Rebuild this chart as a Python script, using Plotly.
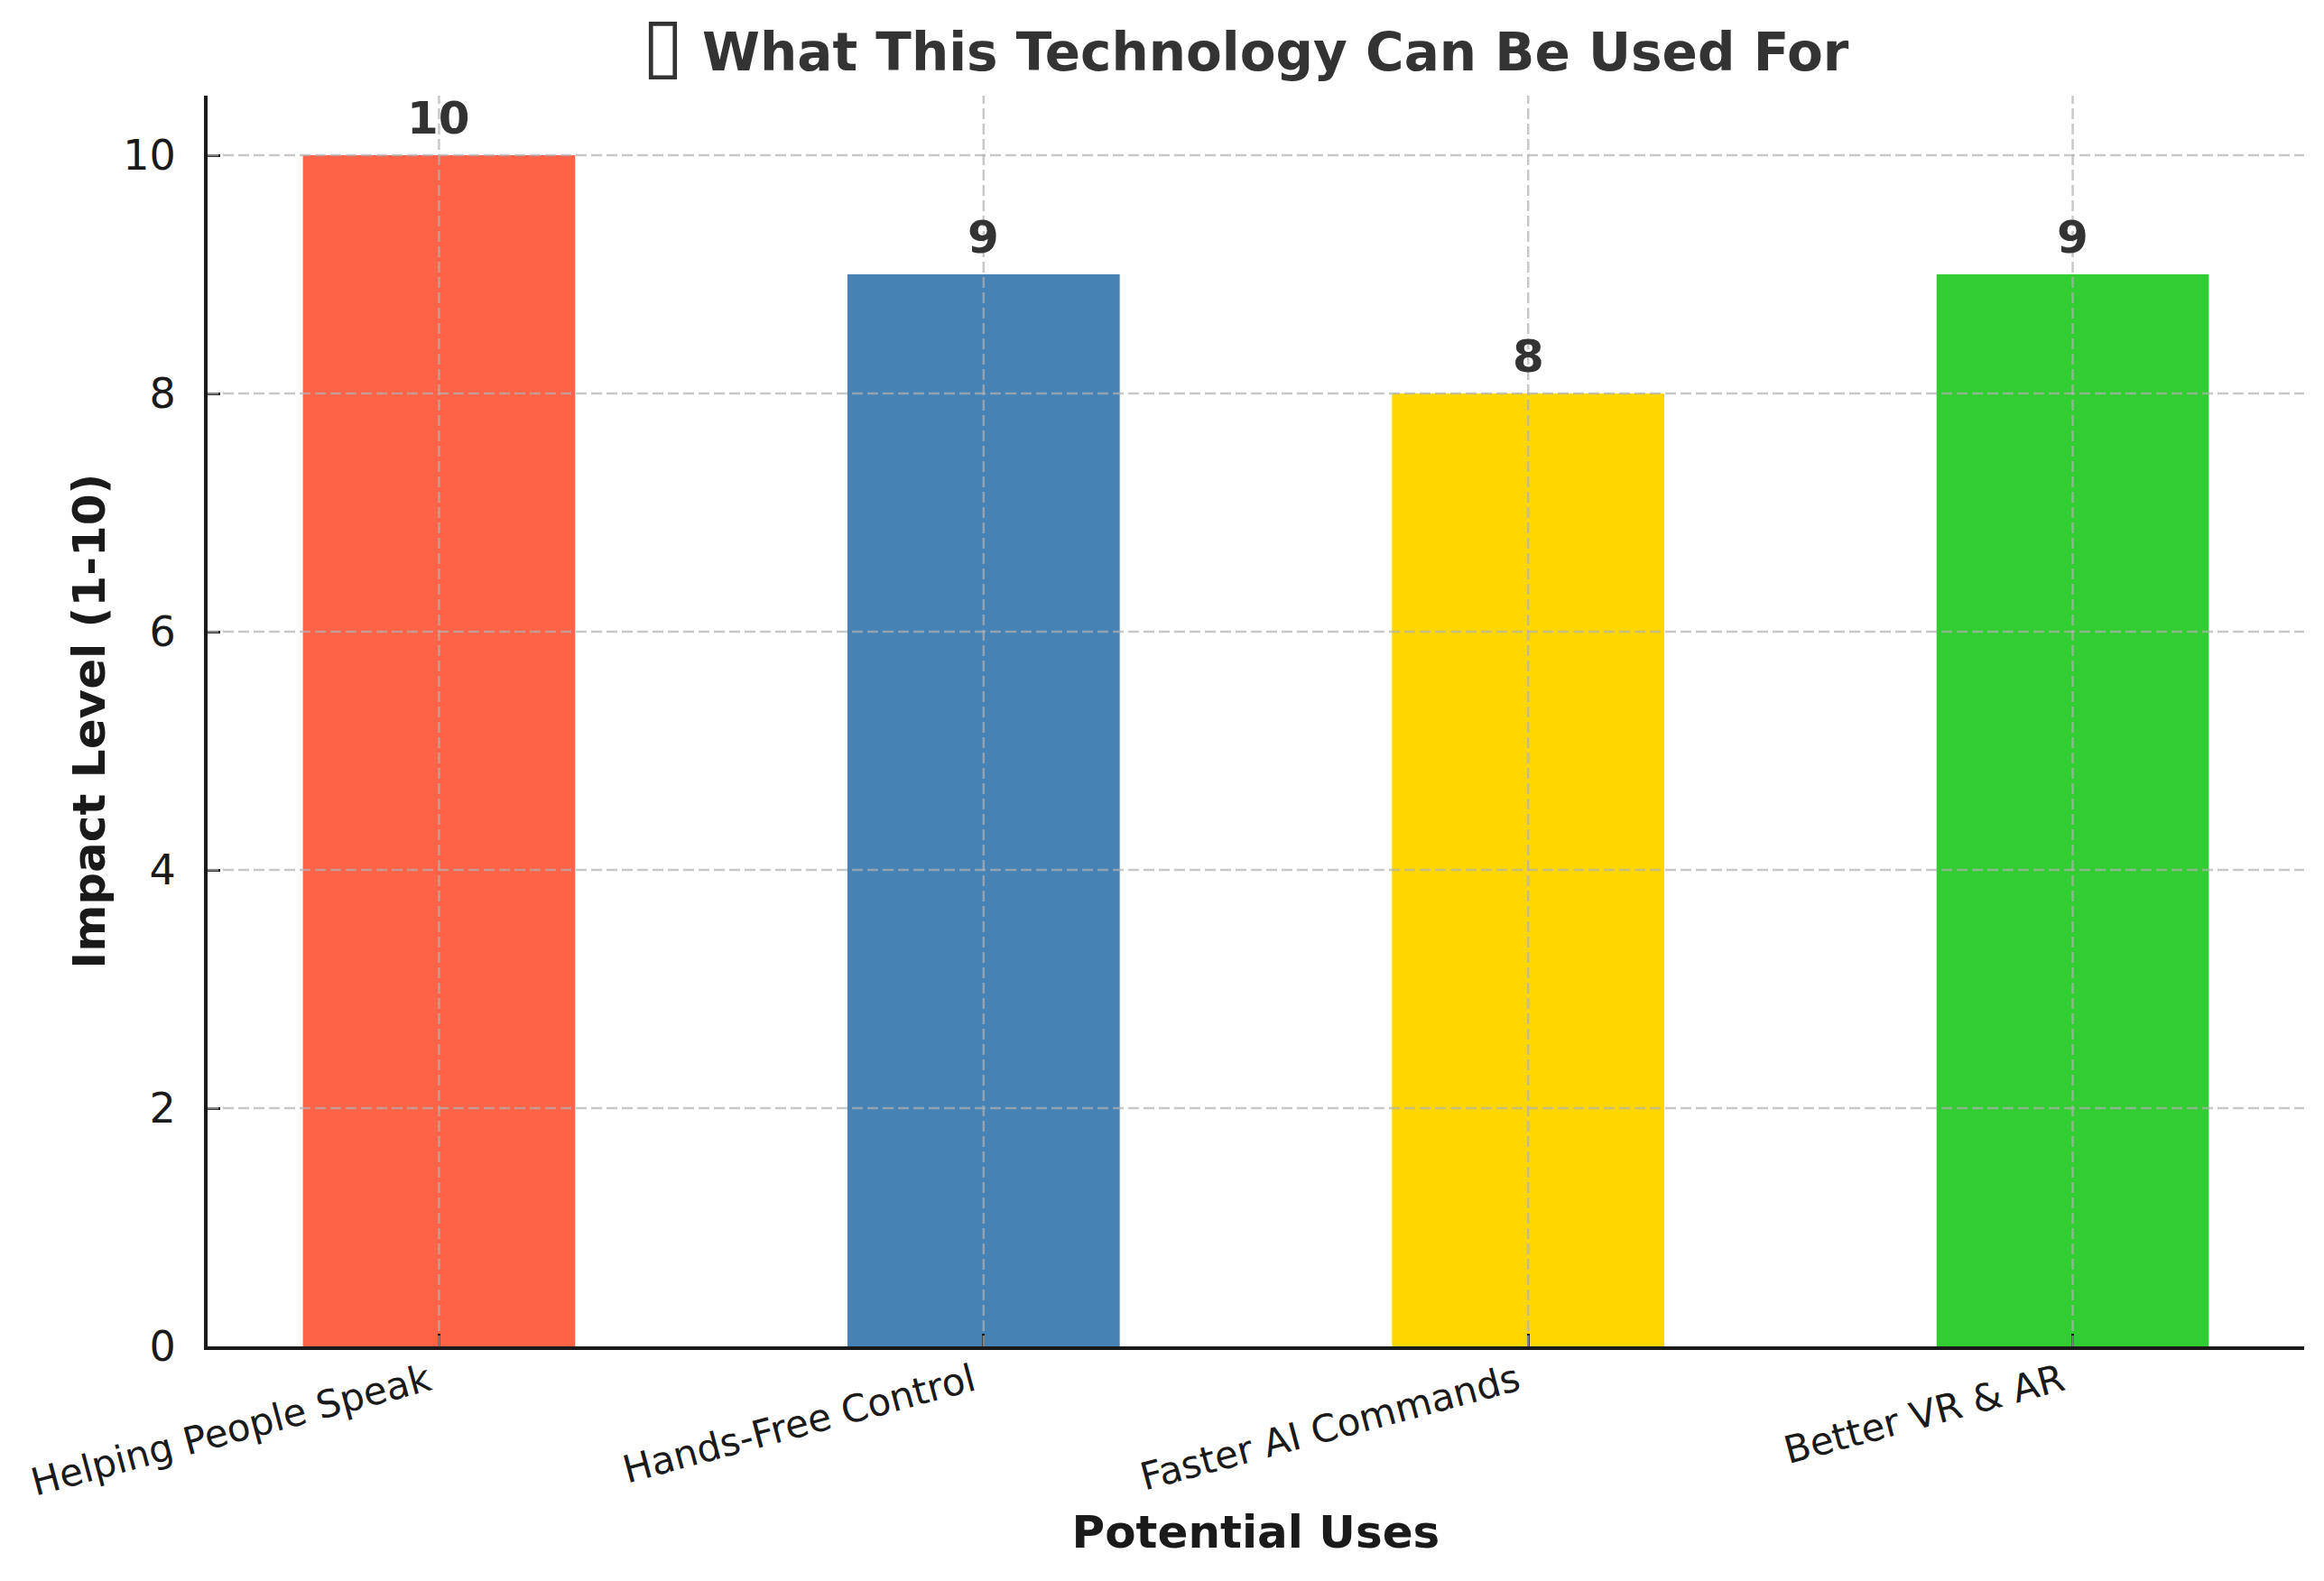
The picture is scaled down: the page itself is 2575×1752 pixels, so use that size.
import plotly.graph_objects as go

categories = ["Helping People Speak", "Hands-Free Control", "Faster AI Commands", "Better VR & AR"]
impact = [10, 9, 8, 9]
colors = ["#FF6347", "#4682B4", "#FFD700", "#32CD32"]
y_ticks = [0, 2, 4, 6, 8, 10]

FONT = "DejaVu Sans"
GRID = "rgba(176,176,176,0.7)"

fig = go.Figure()
fig.add_trace(go.Bar(
    x=categories, y=impact, marker=dict(color=colors, line=dict(width=0)),
    width=0.5, hoverinfo="skip", showlegend=False,
))

# value labels
for c, v in zip(categories, impact):
    fig.add_annotation(
        x=c, y=v, xref="x", yref="y", text=f"<b>{v}</b>", showarrow=False,
        yanchor="bottom", yshift=10,
        font=dict(family=FONT, size=50, color="#333333"),
    )

# grid lines drawn above bars (as in the reference)
for t in y_ticks[1:]:
    fig.add_shape(type="line", xref="x domain", yref="y", x0=0, x1=1, y0=t, y1=t,
                  line=dict(color=GRID, width=2.5, dash="12px,5px"), layer="above")
for c in categories:
    fig.add_shape(type="line", xref="x", yref="y domain", x0=c, x1=c, y0=0, y1=1,
                  line=dict(color=GRID, width=2.5, dash="12px,5px"), layer="above")

fig.update_layout(
    width=2575, height=1752,
    margin=dict(l=222, r=30, t=98, b=268),
    paper_bgcolor="white", plot_bgcolor="white",
    font=dict(family=FONT, color="#1a1a1a"),
    title=dict(
        text='<span style="font-size:84px;font-weight:normal">▯</span><b> What This Technology Can Be Used For</b>',
        x=1372 / 2575, xanchor="center",
        y=1 - 50 / 1752, yanchor="middle", yref="container",
        font=dict(family=FONT, size=58, color="#333333"),
    ),
    bargap=0.5,
)

fig.update_xaxes(
    range=[-0.425, 3.425],
    showline=True, linecolor="#1a1a1a", linewidth=4, mirror=False,
    ticks="inside", ticklen=14, tickwidth=3, tickcolor="#1a1a1a",
    tickangle=-15, tickfont=dict(family=FONT, size=42, color="#1a1a1a"),
    ticklabelshift=-12, ticklabelstandoff=-6,
    showgrid=False, zeroline=False,
    title=dict(text="<b>Potential Uses</b>", standoff=15,
               font=dict(family=FONT, size=50, color="#1a1a1a")),
)
fig.update_yaxes(
    range=[0, 10.5], tickvals=y_ticks, ticktext=[str(t) for t in y_ticks],
    showline=True, linecolor="#1a1a1a", linewidth=4,
    ticks="inside", ticklen=14, tickwidth=3, tickcolor="#1a1a1a",
    tickfont=dict(family=FONT, size=46, color="#1a1a1a"),
    ticklabelstandoff=22,
    showgrid=False, zeroline=False,
    title=dict(text="<b>Impact Level (1-10)</b>", standoff=5,
               font=dict(family=FONT, size=50, color="#1a1a1a")),
)

fig.write_html("out.html")
